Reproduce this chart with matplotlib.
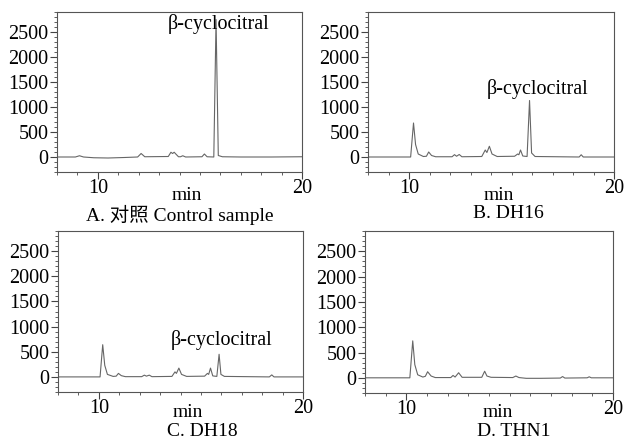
import matplotlib
matplotlib.use("Agg")
import matplotlib.pyplot as plt
from matplotlib.ticker import MultipleLocator, FixedLocator

plt.rcParams['font.family'] = ['Liberation Serif', 'Noto Sans CJK SC']
plt.rcParams['font.size'] = 14.5

# traces: (retention time in min, response)
time_a = [8.0, 8.9, 9.1, 9.3, 9.8, 10.5, 11.3, 11.95, 12.12, 12.3, 13.45, 13.58, 13.66,
          13.74, 13.82, 13.95, 14.05, 14.16, 14.3, 15.1, 15.22, 15.35, 15.68, 15.79,
          15.9, 16.1, 17.0, 18.5, 20.0]
resp_a = [0, 0, 25, 0, -15, -20, -10, 0, 70, 5, 10, 95, 70, 95, 60, 5, 5, 25, 0, 5, 60,
          5, 0, 2750, 30, 5, 0, 0, 5]

time_b = [8.0, 9.5, 10.08, 10.22, 10.32, 10.45, 10.7, 10.85, 10.96, 11.1, 11.3, 12.1,
          12.22, 12.32, 12.45, 12.58, 13.55, 13.72, 13.8, 13.92, 14.05, 14.3, 15.15,
          15.3, 15.36, 15.44, 15.55, 15.76, 15.88, 15.98, 16.15, 18.3, 18.4, 18.5, 20.0]
resp_b = [0, 0, 0, 680, 250, 60, 10, 15, 100, 30, 5, 5, 47, 15, 50, 5, 10, 140, 90, 215,
          60, 10, 15, 60, 45, 140, 20, 10, 1130, 80, 10, 0, 45, 0, 0]

time_c = [8.0, 9.5, 10.06, 10.19, 10.29, 10.42, 10.7, 10.85, 10.96, 11.1, 11.3, 12.1,
          12.23, 12.33, 12.47, 12.6, 13.58, 13.73, 13.8, 13.92, 14.05, 14.3, 15.18,
          15.32, 15.38, 15.47, 15.58, 15.78, 15.89, 15.98, 16.15, 18.35, 18.47, 18.58, 20.0]
resp_c = [0, 0, 0, 640, 230, 50, 10, 15, 70, 25, 5, 5, 35, 15, 35, 5, 10, 100, 70, 175,
          50, 10, 15, 70, 50, 175, 20, 10, 450, 50, 10, 0, 40, 0, 0]

time_d = [8.0, 9.5, 10.17, 10.31, 10.41, 10.55, 10.8, 10.92, 11.03, 11.2, 11.4, 12.15,
          12.26, 12.36, 12.53, 12.7, 13.65, 13.79, 13.9, 14.1, 15.15, 15.3, 15.45, 15.8,
          16.5, 17.45, 17.56, 17.67, 18.75, 18.85, 18.95, 20.0]
resp_d = [0, 0, 0, 730, 260, 60, 15, 30, 120, 35, 5, 5, 47, 15, 100, 10, 10, 130, 35, 10,
          5, 35, 5, -10, -10, -5, 25, -5, 0, 20, 0, 0]

times = [time_a, time_b, time_c, time_d]
resps = [resp_a, resp_b, resp_c, resp_d]
captions = ['A. 对照 Control sample', 'B. DH16', 'C. DH18', 'D. THN1']
# where the compound label sits (time, response); None = no label
label_at = [(15.9, 2650), (16.26, 1370), (16.02, 740), None]

W, H = 624, 444
fig = plt.figure(figsize=(W / 100, H / 100), dpi=100)

# panel boxes in pixels: left, top, right, bottom
boxes = [(57, 12, 302, 172), (368, 12, 614, 172), (58, 231, 303, 392), (365, 231, 613, 393)]
min_xy = [(187, 196), (499, 196), (188, 412), (498, 412)]
cap_xy = [(180, 215), (508, 214), (202, 431), (514, 431)]

for i in range(4):
    l, t, r, b = boxes[i]
    ax = fig.add_axes([l / W, 1 - b / H, (r - l) / W, (b - t) / H])
    ax.plot(times[i], resps[i], color='#666666', lw=0.8)
    ax.set_xlim(8, 20)
    ax.set_ylim(-300, 2900)
    ax.xaxis.set_major_locator(FixedLocator([10, 20]))
    ax.xaxis.set_minor_locator(MultipleLocator(1))
    ax.yaxis.set_major_locator(MultipleLocator(500))
    ax.yaxis.set_minor_locator(MultipleLocator(100))
    ax.set_yticks([0, 500, 1000, 1500, 2000, 2500])
    ax.tick_params(which='major', length=5, width=0.8, color='#444444', pad=1)
    ax.tick_params(which='minor', length=2.5, width=0.6, color='#444444')
    ax.tick_params(axis='x', pad=0)
    for s in ax.spines.values():
        s.set_color('#555555')
        s.set_linewidth(0.8)
    if label_at[i] is not None:
        ax.text(label_at[i][0], label_at[i][1], 'β-cyclocitral', ha='center', va='center',
                fontsize=14.5)
    fig.text(min_xy[i][0] / W, 1 - min_xy[i][1] / H, 'min', ha='center', va='center',
             fontsize=14)
    fig.text(cap_xy[i][0] / W, 1 - cap_xy[i][1] / H, captions[i], ha='center',
             va='center', fontsize=14)

fig.savefig('out.png', dpi=100)
